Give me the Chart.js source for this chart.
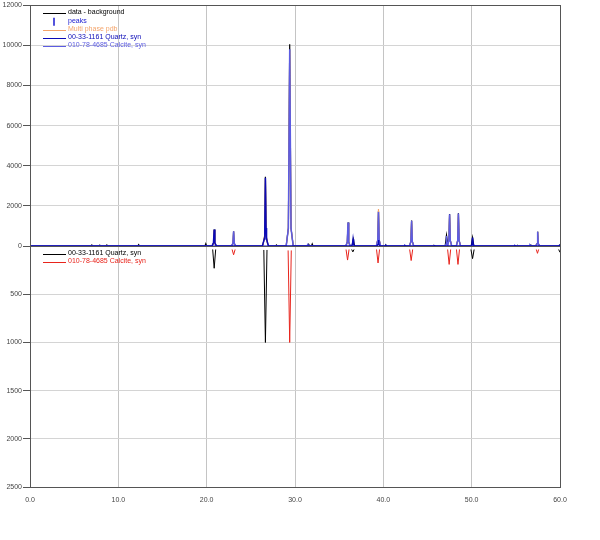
<!DOCTYPE html>
<html><head><meta charset="utf-8">
<script src="https://cdn.jsdelivr.net/npm/chart.js@4.4.1/dist/chart.umd.min.js"></script>
<style>html,body{margin:0;padding:0;background:#fff;}canvas{display:block;}</style>
</head><body>
<canvas id="c" width="600" height="540"></canvas>
<script>
// ---- data (2theta, counts) ----
const xTickValues = [0, 10, 20, 30, 40, 50, 60];
const topTickValues = [0, 2000, 4000, 6000, 8000, 10000, 12000];
const bottomTickValues = [0, 500, 1000, 1500, 2000, 2500];

const legendTop = ["data - background", "peaks", "Multi phase pdb", "00-33-1161 Quartz, syn", "010-78-4685 Calcite, syn"];
const legendBottom = ["00-33-1161 Quartz, syn", "010-78-4685 Calcite, syn"];

const dataMinusBackground = [[0,0],[6.9,0],[7.0,60],[7.1,0],[7.8,0],[7.9,50],[8.0,0],[8.6,0],[8.7,60],[8.8,0],
 [12.2,0],[12.3,70],[12.4,0],[19.8,0],[19.9,120],[20.0,0],[20.6,0],[20.78,150],[20.85,830],[20.92,150],[21.1,0],
 [22.8,0],[22.98,130],[23.05,740],[23.12,130],[23.3,0],[26.35,0],[26.56,500],[26.65,3450],[26.74,500],[26.95,0],
 [27.8,0],[27.9,60],[28.0,0],[29.0,0],[29.25,900],[29.4,10050],[29.55,900],[29.8,0],[31.45,0],[31.55,90],[31.65,0],
 [31.85,0],[31.95,110],[32.05,0],[35.75,0],[35.92,200],[36.0,1180],[36.08,200],[36.25,0],[36.45,0],[36.6,340],[36.75,0],
 [39.2,0],[39.37,300],[39.45,1750],[39.53,300],[39.7,0],[40.2,0],[40.3,50],[40.4,0],[42.95,0],[43.12,230],[43.2,1270],
 [43.28,230],[43.45,0],[45.6,0],[45.7,40],[45.8,0],[47.0,0],[47.15,540],[47.3,100],[47.42,280],[47.5,1600],[47.58,280],
 [47.75,0],[48.25,0],[48.42,280],[48.5,1630],[48.58,280],[48.75,0],[49.95,0],[50.1,420],[50.25,0],[55.1,0],[55.2,40],
 [55.3,0],[56.6,0],[56.7,60],[56.8,0],[57.25,0],[57.4,130],[57.47,720],[57.54,130],[57.7,0],[59.9,0],[60,80]];

const multiPhase = [[0,0],[20.6,0],[20.78,140],[20.85,800],[20.92,140],[21.1,0],[22.8,0],[22.98,120],[23.05,720],[23.12,120],[23.3,0],
 [26.35,0],[26.56,480],[26.65,3350],[26.74,480],[26.95,0],[29.0,0],[29.25,880],[29.4,9700],[29.55,880],[29.8,0],
 [35.75,0],[35.92,190],[36.0,1150],[36.08,190],[36.25,0],[39.2,0],[39.37,320],[39.45,1850],[39.53,320],[39.7,0],
 [42.95,0],[43.12,220],[43.2,1250],[43.28,220],[43.45,0],[47.25,0],[47.42,270],[47.5,1550],[47.58,270],[47.75,0],
 [48.25,0],[48.42,270],[48.5,1580],[48.58,270],[48.75,0],[57.2,0],[57.4,120],[57.47,700],[57.54,120],[57.7,0],[60,0]];

const quartzFit = [[0,0],[20.6,0],[20.77,160],[20.85,830],[20.93,160],[21.1,0],[26.3,0],[26.52,350],[26.58,900],
 [26.65,3400],[26.72,900],[26.78,350],[27.0,0],[36.4,0],[36.5,80],[36.57,340],[36.64,80],[36.75,0],[39.25,0],[39.4,80],
 [39.45,300],[39.5,80],[39.65,0],[40.2,0],[40.3,30],[40.4,0],[42.35,0],[42.45,30],[42.55,0],[45.7,0],[45.8,25],[45.9,0],
 [49.95,0],[50.03,90],[50.1,420],[50.17,90],[50.3,0],[54.8,0],[54.9,25],[55.0,0],[59.85,0],[60,60]];

const calciteFit = [[0,0],[22.8,0],[22.97,130],[23.05,740],[23.13,130],[23.3,0],[29.0,0],[29.25,880],[29.4,9800],
 [29.55,880],[29.8,0],[31.35,0],[31.45,80],[31.55,0],[35.75,0],[35.92,200],[36.0,1170],[36.08,200],[36.25,0],
 [39.2,0],[39.37,290],[39.45,1700],[39.53,290],[39.7,0],[42.95,0],[43.12,220],[43.2,1260],[43.28,220],[43.45,0],
 [47.0,0],[47.1,100],[47.15,500],[47.22,100],[47.3,60],[47.42,270],[47.5,1590],[47.58,270],[47.75,0],
 [48.25,0],[48.42,270],[48.5,1620],[48.58,270],[48.75,0],[56.5,0],[56.6,50],[56.7,0],[57.25,0],[57.4,120],
 [57.47,710],[57.54,120],[57.7,0],[60,0]];

const quartzSticks = [[20.68,35],[20.85,230],[21.02,35],null,[26.47,40],[26.65,1000],[26.83,40],null,
 [36.42,35],[36.55,60],[36.68,35],null,[49.92,35],[50.1,130],[50.28,35],null,[59.85,35],[60.0,65]];

const calciteSticks = [[22.88,35],[23.05,90],[23.22,35],null,[29.22,45],[29.4,1000],[29.58,45],null,
 [35.78,35],[35.95,145],[36.12,35],null,[39.23,35],[39.4,175],[39.57,35],null,[42.98,35],[43.15,150],[43.32,35],null,
 [47.28,35],[47.45,190],[47.62,35],null,[48.28,35],[48.45,190],[48.62,35],null,[57.32,35],[57.45,75],[57.58,35]];

// ---- helpers ----
function toPoints(arr){
  const out = [];
  let lastX = 0;
  for (const p of arr){
    if (p === null){ out.push({x:lastX, y:null}); }
    else { out.push({x:p[0], y:p[1]}); lastX = p[0]; }
  }
  return out;
}

const FONT = '"Liberation Sans", Arial, sans-serif';
const C_BLACK = '#000000', C_PEAK = '#1a1ad0', C_ORANGE = '#f4a46a', C_QTZ = '#0a0ab8', C_CAL = '#5c5ce2', C_RED = '#e8241c';

const framePlugin = {
  id: 'frame',
  beforeDatasetsDraw(chart){
    const {ctx, chartArea:a, scales} = chart;
    const y0 = scales.yTop.getPixelForValue(0);
    ctx.save();
    ctx.strokeStyle = '#555';
    ctx.lineWidth = 1;
    ctx.beginPath();
    ctx.moveTo(a.left, Math.round(y0)+0.5); ctx.lineTo(a.right, Math.round(y0)+0.5);
    ctx.stroke();
    ctx.restore();
  },
  afterDraw(chart){
    const {ctx, chartArea:a} = chart;
    ctx.save();
    ctx.strokeStyle = '#555';
    ctx.lineWidth = 1;
    ctx.strokeRect(Math.round(a.left)+0.5, Math.round(a.top)+0.5, Math.round(a.right-a.left), Math.round(a.bottom-a.top));
    // inline legends
    ctx.font = '7px ' + FONT;
    ctx.textBaseline = 'middle';
    ctx.textAlign = 'left';
    const lx0 = a.left + 13, lx1 = a.left + 36, tx = a.left + 38;
    const topCols = [C_BLACK, C_PEAK, C_ORANGE, C_QTZ, C_CAL];
    const topRowsY = [8, 16.5, 24.5, 32.5, 41];
    legendTop.forEach((t, i) => {
      const y = a.top + topRowsY[i];
      ctx.strokeStyle = topCols[i];
      ctx.lineWidth = 1;
      ctx.beginPath();
      if (i === 1){ ctx.lineWidth = 1.5; ctx.moveTo(lx0 + 11, y - 4); ctx.lineTo(lx0 + 11, y + 4); }
      else { ctx.moveTo(lx0, Math.round(y)+0.5); ctx.lineTo(lx1, Math.round(y)+0.5); }
      ctx.stroke();
      ctx.fillStyle = topCols[i];
      ctx.fillText(t, tx, y - 1);
    });
    const y0 = chart.scales.yTop.getPixelForValue(0);
    const botCols = [C_BLACK, C_RED];
    const botRowsY = [8, 15.5];
    legendBottom.forEach((t, i) => {
      const y = y0 + botRowsY[i];
      ctx.strokeStyle = botCols[i];
      ctx.lineWidth = 1;
      ctx.beginPath();
      ctx.moveTo(lx0, Math.round(y)+0.5); ctx.lineTo(lx1, Math.round(y)+0.5);
      ctx.stroke();
      ctx.fillStyle = botCols[i];
      ctx.fillText(t, tx, y - 1);
    });
    ctx.restore();
  }
};

function ds(label, pts, color, axis, order, width){
  return {label, data: toPoints(pts), borderColor: color, backgroundColor: color, borderWidth: width || 1,
    showLine: true, pointRadius: 0, pointHoverRadius: 0, yAxisID: axis, order, spanGaps: false, tension: 0, fill: false};
}

new Chart(document.getElementById('c'), {
  type: 'scatter',
  data: {
    datasets: [
      ds(legendTop[0], dataMinusBackground, C_BLACK, 'yTop', 4, 1.2),
      ds(legendTop[2], multiPhase, C_ORANGE, 'yTop', 3, 1.2),
      ds(legendTop[4], calciteFit, C_CAL, 'yTop', 2, 1.5),
      ds(legendTop[3], quartzFit, C_QTZ, 'yTop', 1, 1.5),
      ds(legendBottom[0], quartzSticks, C_BLACK, 'yBot', 2, 1),
      ds(legendBottom[1], calciteSticks, C_RED, 'yBot', 1, 1)
    ]
  },
  options: {
    responsive: false,
    animation: false,
    events: [],
    layout: {padding: {top: 5, right: 40, left: 0, bottom: 0}},
    plugins: {legend: {display: false}, tooltip: {enabled: false}},
    scales: {
      x: {
        type: 'linear', position: 'bottom', min: 0, max: 60,
        afterBuildTicks(s){ s.ticks = xTickValues.map(v => ({value: v})); },
        ticks: {callback: v => Number(v).toFixed(1), font: {size: 7, family: FONT}, color: '#444', padding: 9, maxRotation: 0, autoSkip: false},
        grid: {color: '#c4c4c4', drawTicks: false, lineWidth: 1},
        border: {color: '#555', width: 1},
        afterFit(s){ s.height = 53; }
      },
      yTop: {
        type: 'linear', position: 'left', stack: 'v', stackWeight: 1, weight: 1, min: 0, max: 12000,
        afterBuildTicks(s){ s.ticks = topTickValues.map(v => ({value: v})); },
        ticks: {callback: v => String(v), font: {size: 7, family: FONT}, color: '#444', padding: 1, autoSkip: false},
        grid: {color: '#d4d4d4', tickColor: '#555', tickLength: 7, lineWidth: 1},
        border: {color: '#555', width: 1},
        afterFit(s){ s.width = 30; }
      },
      yBot: {
        type: 'linear', position: 'left', stack: 'v', stackWeight: 1, weight: 0, min: 0, max: 2500, reverse: true,
        afterBuildTicks(s){ s.ticks = bottomTickValues.map(v => ({value: v})); },
        ticks: {callback: v => (v === 0 ? '' : String(v)), font: {size: 7, family: FONT}, color: '#444', padding: 1, autoSkip: false},
        grid: {color: '#d4d4d4', tickColor: '#555', tickLength: 7, lineWidth: 1},
        border: {color: '#555', width: 1},
        afterFit(s){ s.width = 30; }
      }
    }
  },
  plugins: [framePlugin]
});
</script>
</body></html>
